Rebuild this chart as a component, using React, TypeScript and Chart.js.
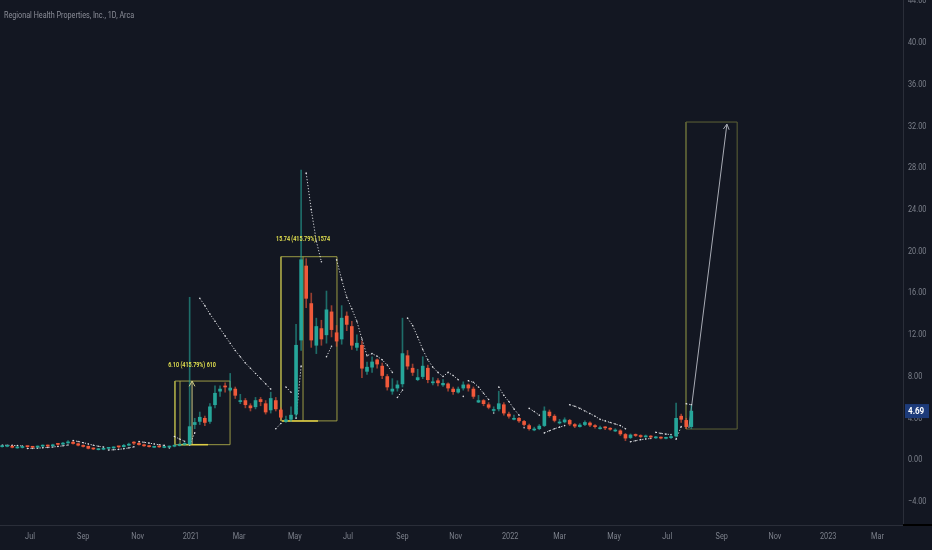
import { useEffect, useRef } from 'react'
import { Chart, registerables } from 'chart.js'
Chart.register(...registerables)

// x axis = trading session index, 0 = 1 Jul 2020. candles below are 4-session bars
const FIRST_SESSION = -22
const SESSIONS_PER_BAR = 4

const opens = [
    1.28, 1.31, 1.30, 1.16, 1.20, 1.30, 1.26, 1.24, 1.33, 1.40,
    1.36, 1.52, 1.52, 1.64, 1.70, 1.56, 1.40, 1.32, 1.10, 0.99,
    1.03, 1.12, 1.16, 1.28, 1.28, 1.42, 1.66, 1.60, 1.46, 1.32,
    1.22, 1.28, 1.20, 1.24, 1.32, 1.40, 1.50, 1.52, 3.40, 3.70,
    4.00, 3.70, 5.30, 6.60, 7.10, 6.70, 6.80, 5.60, 5.70, 5.20,
    5.10, 5.80, 5.40, 4.80, 5.70, 4.80, 3.70, 3.90, 4.40, 11.5,
    18.6, 15.0, 11.0, 12.6, 12.0, 14.2, 12.2, 11.6, 13.8, 12.8,
    10.8, 11.0, 8.50, 8.90, 9.60, 9.00, 8.00, 6.60, 6.90, 7.30,
    10.0, 8.80, 7.70, 8.00, 8.80, 7.40, 7.60, 7.20, 7.30, 6.80,
    6.50, 6.90, 7.20, 6.80, 5.55, 5.70, 5.30, 4.75, 4.90, 5.30,
    4.40, 3.90, 4.00, 3.70, 3.30, 2.88, 3.00, 3.30, 4.60, 4.20,
    3.55, 3.65, 3.80, 3.40, 3.20, 3.40, 3.55, 3.30, 3.00, 3.10,
    3.05, 2.78, 2.80, 2.45, 2.15, 2.45, 2.30, 2.22, 2.28, 2.12,
    2.16, 2.08, 2.14, 2.30, 4.20, 3.80, 3.20,
]
const closes = [
    1.30, 1.34, 1.22, 1.18, 1.24, 1.28, 1.22, 1.30, 1.38, 1.34,
    1.45, 1.50, 1.62, 1.72, 1.58, 1.42, 1.30, 1.12, 1.06, 1.02,
    1.08, 1.14, 1.20, 1.26, 1.40, 1.52, 1.62, 1.48, 1.36, 1.28,
    1.24, 1.26, 1.22, 1.30, 1.38, 1.46, 1.52, 3.20, 3.60, 4.10,
    3.60, 5.10, 6.40, 6.80, 7.00, 6.90, 6.20, 5.70, 5.30, 5.00,
    5.70, 5.60, 4.60, 5.90, 4.90, 4.10, 3.85, 4.30, 11.0, 19.2,
    15.5, 11.5, 12.8, 11.6, 14.4, 12.5, 11.4, 13.6, 13.0, 11.0,
    11.2, 8.80, 8.90, 9.40, 9.20, 8.10, 7.00, 6.80, 7.20, 10.2,
    9.00, 8.40, 7.90, 9.00, 7.70, 7.50, 7.40, 7.35, 6.90, 6.55,
    6.80, 7.20, 6.90, 6.10, 5.70, 5.40, 5.05, 4.80, 5.40, 4.50,
    4.20, 4.00, 3.75, 3.40, 3.00, 2.95, 3.25, 4.70, 4.25, 3.80,
    3.60, 3.85, 3.45, 3.25, 3.35, 3.60, 3.35, 3.20, 3.05, 3.08,
    2.95, 2.85, 2.50, 2.10, 2.40, 2.35, 2.25, 2.30, 2.20, 2.15,
    2.10, 2.12, 2.25, 4.00, 3.90, 3.20, 4.69,
]
const highs = [
    1.38, 1.42, 1.38, 1.27, 1.30, 1.35, 1.32, 1.36, 1.46, 1.44,
    1.52, 1.58, 1.70, 1.86, 1.78, 1.62, 1.46, 1.34, 1.16, 1.10,
    1.14, 1.20, 1.27, 1.33, 1.50, 1.62, 1.76, 1.66, 1.52, 1.40,
    1.32, 1.32, 1.30, 1.36, 1.46, 1.55, 1.68, 15.6, 4.00, 4.60,
    4.20, 5.40, 7.10, 7.10, 7.40, 8.30, 7.00, 6.30, 5.90, 5.40,
    6.00, 6.00, 5.70, 6.50, 6.00, 5.00, 4.20, 5.10, 13.0, 27.8,
    19.3, 16.0, 13.6, 13.4, 16.2, 14.8, 12.9, 14.8, 14.2, 13.3,
    12.0, 11.4, 9.40, 9.90, 9.70, 9.30, 8.20, 7.80, 7.60, 13.6,
    10.5, 9.20, 8.70, 9.90, 9.10, 7.90, 7.80, 7.70, 7.40, 7.00,
    7.00, 7.50, 7.30, 7.00, 6.20, 5.80, 5.50, 5.10, 6.60, 5.50,
    4.60, 4.30, 4.10, 3.80, 3.45, 3.15, 3.40, 5.10, 4.80, 4.35,
    3.90, 4.05, 3.90, 3.50, 3.50, 3.75, 3.65, 3.40, 3.25, 3.20,
    3.10, 3.00, 2.90, 2.55, 2.50, 2.50, 2.42, 2.40, 2.35, 2.28,
    2.22, 2.20, 2.40, 5.45, 4.40, 4.00, 5.20,
]
const lows = [
    1.22, 1.26, 1.16, 1.12, 1.14, 1.20, 1.17, 1.18, 1.27, 1.29,
    1.31, 1.41, 1.47, 1.58, 1.52, 1.36, 1.24, 1.06, 0.99, 0.96,
    0.98, 1.04, 1.10, 1.16, 1.22, 1.36, 1.48, 1.42, 1.30, 1.22,
    1.18, 1.20, 1.17, 1.18, 1.26, 1.34, 1.42, 1.48, 3.00, 3.40,
    3.30, 3.50, 5.00, 6.10, 6.50, 6.60, 5.90, 5.40, 5.00, 4.70,
    4.90, 5.20, 4.40, 4.50, 4.70, 3.90, 3.60, 3.70, 4.10, 10.5,
    14.6, 10.8, 10.2, 11.0, 11.2, 11.8, 10.9, 11.1, 12.4, 10.6,
    10.5, 7.90, 8.20, 8.40, 8.80, 7.80, 6.70, 6.30, 6.60, 7.00,
    8.70, 8.10, 7.60, 7.80, 7.40, 7.20, 7.10, 7.05, 6.60, 6.30,
    6.40, 6.70, 6.60, 5.90, 5.50, 5.20, 4.90, 4.60, 4.70, 4.30,
    4.00, 3.85, 3.60, 3.25, 2.85, 2.80, 2.90, 3.20, 4.10, 3.65,
    3.45, 3.55, 3.30, 3.10, 3.15, 3.30, 3.20, 3.05, 2.95, 2.92,
    2.85, 2.72, 2.35, 1.85, 2.05, 2.25, 2.15, 2.18, 2.10, 2.06,
    2.02, 2.02, 2.05, 2.20, 3.60, 3.00, 3.00,
]

// parabolic SAR, split by side so the dotted runs break on a flip
const sarAbove = [
    1.42, 1.41, 1.40, 1.38, 1.35, null, null, null, null, null,
    null, null, null, null, 1.86, 1.78, 1.66, 1.54, 1.42, 1.32,
    1.24, null, null, null, null, null, null, 1.76, 1.70, 1.62,
    1.54, 1.46, 1.40, null, 2.25, 2.02, 1.80, null, null, 15.5,
    14.8, 14.0, 13.3, 12.6, 11.9, 11.2, 10.5, 9.9, 9.3, 8.8,
    8.3, 7.8, 7.3, 6.8, null, null, 7.0, 6.5, null, null,
    27.5, 24.0, 21.0, 19.0, null, null, 19.2, 17.3, 15.6, 14.5,
    13.3, 11.6, 10.0, 10.2, 9.95, 9.6, 9.1, 8.4, null, null,
    13.6, 12.9, 11.8, 10.6, 9.6, 8.9, 8.4, 8.0, 8.4, 8.1,
    7.7, null, 7.6, 7.45, 7.0, 6.4, 5.8, null, 7.0, 6.2,
    5.6, 4.9, 4.3, null, 4.95, 4.65, 4.3, null, null, null,
    null, null, 5.3, 5.15, 4.95, 4.7, 4.45, 4.2, 3.9, 3.75,
    3.6, 3.45, 3.3, 3.0, null, null, null, null, null, 2.65,
    2.55, 2.48, 2.44, null, null, 5.4, 5.3,
]
const sarBelow = [
    null, null, null, null, null, 1.10, 1.12, 1.14, 1.17, 1.21,
    1.25, 1.30, 1.36, 1.44, null, null, null, null, null, null,
    null, 0.96, 0.98, 1.02, 1.08, 1.16, 1.26, null, null, null,
    null, null, null, 1.16, null, null, null, 1.45, 2.60, null,
    null, null, null, null, null, null, null, null, null, null,
    null, null, null, null, 3.0, 3.5, null, null, 4.0, 9.0,
    null, null, null, null, 9.9, 10.9, null, null, null, null,
    null, null, null, null, null, null, null, null, 6.0, 6.7,
    null, null, null, null, null, null, null, null, null, null,
    null, 6.1, null, null, null, null, null, 4.5, null, null,
    null, null, null, 3.1, null, null, null, 2.6, 2.8, 3.0,
    3.15, 3.3, null, null, null, null, null, null, null, null,
    null, null, null, null, 1.75, 1.85, 1.95, 2.02, 2.06, null,
    null, null, null, 2.0, 3.2, null, null,
]

const monthSessions = [0, 42, 85, 127, 165, 209, 251, 294, 336, 379, 418, 461, 503, 546, 588, 630, 669]
const monthLabels = ['Jul', 'Sep', 'Nov', '2021', 'Mar', 'May', 'Jul', 'Sep', 'Nov', '2022', 'Mar', 'May', 'Jul', 'Sep', 'Nov', '2023', 'Mar']
const priceTicks = [-4, 0, 4, 8, 12, 16, 20, 24, 28, 32, 36, 40, 44]
const lastPrice = 4.69

// drawings on the chart, in (session, price)
const box1Sessions = [114.4, 157.9]
const box1Prices = [1.47, 7.57]
const box1Guide = 118.4
const box1Arrow = 127.9
const box1Base = [116.8, 140.5]
const box1Label = '6.10 (415.79%) 610'
const box1LabelPrice = 9.1

const box2Sessions = [198.1, 242.3]
const box2Prices = [3.75, 19.49]
const box2Arrow = 215.5
const box2Base = [198.9, 227.3]
const box2Label = '15.74 (415.79%) 1574'
const box2LabelPrice = 21.2

const box3Sessions = [517.8, 558.2]
const box3Prices = [2.97, 32.4]
const projSessions = [520.1, 550.1]
const projPrices = [3.07, 32.2]

const BG = '#131722'
const UP = '#26a69a'
const DOWN = '#f0593a'
const SAR = 'rgba(235,236,240,0.9)'
const AXIS_TEXT = '#7c808b'
const BORDER = '#2a2e39'
const BOX = 'rgba(170,168,72,0.9)'
const ARROW = 'rgba(215,212,140,0.95)'
const BASE = '#e0cf45'
const LABEL = '#e8e650'
const BOX3 = '#5f6337'
const PROJ = '#a9acb5'
const FONT = 'Roboto, sans-serif'
const SQUEEZE = 0.77 // the screenshot's text is condensed

const rect = (sx: number[], py: number[]) => [
    { x: sx[0], y: py[0] }, { x: sx[1], y: py[0] }, { x: sx[1], y: py[1] }, { x: sx[0], y: py[1] }, { x: sx[0], y: py[0] },
]

const fmtPrice = (v: number) => (v < 0 ? '\u2212' : '') + Math.abs(v).toFixed(2)

function squeezedText(ctx: CanvasRenderingContext2D, text: string, x: number, y: number, sx = SQUEEZE) {
    ctx.save()
    ctx.translate(x, y)
    ctx.scale(sx, 1)
    ctx.fillText(text, 0, 0)
    ctx.restore()
}

function arrowHead(ctx: CanvasRenderingContext2D, x0: number, y0: number, x1: number, y1: number, color: string) {
    const a = Math.atan2(y1 - y0, x1 - x0)
    const len = 6
    ctx.strokeStyle = color
    ctx.lineWidth = 1
    ctx.beginPath()
    ctx.moveTo(x1 - len * Math.cos(a - 0.5), y1 - len * Math.sin(a - 0.5))
    ctx.lineTo(x1, y1)
    ctx.lineTo(x1 - len * Math.cos(a + 0.5), y1 - len * Math.sin(a + 0.5))
    ctx.stroke()
}

const drawings = {
    id: 'drawings',
    afterDatasetsDraw(chart: any) {
        const { ctx, scales: { x, y } } = chart
        const px = (s: number) => x.getPixelForValue(s)
        const py = (p: number) => y.getPixelForValue(p)
        ctx.save()
        arrowHead(ctx, px(box1Arrow), py(box1Prices[0]), px(box1Arrow), py(box1Prices[1]), ARROW)
        arrowHead(ctx, px(projSessions[0]), py(projPrices[0]), px(projSessions[1]), py(projPrices[1]), PROJ)
        ctx.font = `600 8px ${FONT}`
        ctx.fillStyle = LABEL
        ctx.textAlign = 'center'
        ctx.textBaseline = 'middle'
        squeezedText(ctx, box1Label, px(box1Arrow), py(box1LabelPrice), 0.68)
        squeezedText(ctx, box2Label, px(box2Arrow), py(box2LabelPrice), 0.68)
        ctx.restore()
    },
    afterDraw(chart: any) {
        const { ctx, scales: { x, y } } = chart
        ctx.save()
        // axis labels, at the ticks the scales built
        ctx.font = `9.5px ${FONT}`
        ctx.fillStyle = AXIS_TEXT
        ctx.textBaseline = 'middle'
        ctx.textAlign = 'left'
        y.ticks.forEach((t: any) => squeezedText(ctx, fmtPrice(t.value), y.left + 5, y.getPixelForValue(t.value)))
        ctx.textAlign = 'center'
        x.ticks.forEach((t: any, i: number) => squeezedText(ctx, monthLabels[i], x.getPixelForValue(t.value), x.top + 12))

        // corner of the two scales
        ctx.fillStyle = '#000000'
        ctx.fillRect(y.left, x.top - 1, y.width, 2)

        // last price tag
        const yy = y.getPixelForValue(lastPrice)
        ctx.fillStyle = '#1d3b7a'
        ctx.fillRect(y.left + 2, yy - 7, 24, 14)
        ctx.fillStyle = '#ffffff'
        ctx.font = `bold 9.5px ${FONT}`
        ctx.textAlign = 'left'
        squeezedText(ctx, lastPrice.toFixed(2), y.left + 5, yy + 0.5, 0.85)
        ctx.restore()
    },
}

export default function App() {
    const canvasRef = useRef<HTMLCanvasElement>(null)

    useEffect(() => {
        document.body.style.margin = '0'
        document.body.style.background = BG
        if (!canvasRef.current) return
        const ctx = canvasRef.current.getContext('2d')!

        const xs = closes.map((_, i) => FIRST_SESSION + i * SESSIONS_PER_BAR)
        const colors = closes.map((c, i) => (c >= opens[i] ? UP : DOWN))
        const wickColors = colors.map(c => c + '99')

        const line = (data: any[], color: string, order: number, width = 1) => ({
            type: 'line' as const, data, borderColor: color, borderWidth: width, pointRadius: 0, order, tension: 0,
        })

        const chart = new Chart(ctx, {
            type: 'bar',
            data: {
                datasets: [
                    line(rect(box1Sessions, box1Prices), BOX, 6),
                    line([{ x: box1Guide, y: box1Prices[0] }, { x: box1Guide, y: box1Prices[1] }], BOX, 6),
                    line([{ x: box1Arrow, y: box1Prices[0] }, { x: box1Arrow, y: box1Prices[1] }], ARROW, 6),
                    line([{ x: box1Base[0], y: box1Prices[0] }, { x: box1Base[1], y: box1Prices[0] }], BASE, 5, 1.5),
                    line(rect(box2Sessions, box2Prices), BOX, 6),
                    line([{ x: box2Arrow, y: box2Prices[0] }, { x: box2Arrow, y: box2Prices[1] }], BOX, 6),
                    line([{ x: box2Base[0], y: box2Prices[0] }, { x: box2Base[1], y: box2Prices[0] }], BASE, 5, 1.5),
                    line(rect(box3Sessions, box3Prices), BOX3, 6),
                    line([{ x: projSessions[0], y: projPrices[0] }, { x: projSessions[1], y: projPrices[1] }], PROJ, 6),
                    {
                        type: 'bar',
                        data: xs.map((x, i) => ({ x, y: [lows[i], highs[i]] })),
                        backgroundColor: wickColors,
                        barThickness: 1,
                        grouped: false,
                        order: 2,
                    } as any,
                    {
                        type: 'bar',
                        data: xs.map((x, i) => ({ x, y: [opens[i], closes[i]] })),
                        backgroundColor: colors,
                        barThickness: 3,
                        minBarLength: 1,
                        grouped: false,
                        order: 1,
                    } as any,
                    ...[sarAbove, sarBelow].map(sar => ({
                        type: 'line' as const,
                        data: xs.map((x, i) => ({ x, y: sar[i] })),
                        borderColor: SAR,
                        borderWidth: 1,
                        borderDash: [1.2, 1.8],
                        pointRadius: 0.8,
                        pointBorderWidth: 0,
                        pointBackgroundColor: SAR,
                        spanGaps: false,
                        tension: 0,
                        order: 3,
                    })),
                ],
            },
            options: {
                responsive: true,
                maintainAspectRatio: false,
                animation: false,
                events: [],
                layout: { padding: 0, autoPadding: false },
                plugins: { legend: { display: false }, tooltip: { enabled: false } },
                scales: {
                    x: {
                        type: 'linear',
                        min: -23.7,
                        max: 689.1,
                        offset: false,
                        afterBuildTicks: (s: any) => { s.ticks = monthSessions.map(v => ({ value: v })) },
                        afterFit: (s: any) => { s.height = 25; s.paddingLeft = 0; s.paddingRight = 0 },
                        grid: { display: false, drawTicks: false, offset: false },
                        border: { display: true, color: BORDER },
                        ticks: { display: false, autoSkip: false },
                    },
                    y: {
                        type: 'linear',
                        position: 'right',
                        min: -6.23,
                        max: 44.1,
                        afterBuildTicks: (s: any) => { s.ticks = priceTicks.map(v => ({ value: v })) },
                        afterFit: (s: any) => { s.width = 29; s.paddingTop = 0; s.paddingBottom = 0 },
                        grid: { display: false, drawTicks: false },
                        border: { display: true, color: BORDER },
                        ticks: { display: false, autoSkip: false },
                    },
                },
            } as any,
            plugins: [drawings],
        })
        return () => chart.destroy()
    }, [])

    return (
        <div style={{ position: 'relative', width: 932, height: 550, background: BG, overflow: 'hidden' }}>
            <canvas ref={canvasRef} />
            <div style={{
                position: 'absolute', left: 4, top: 9, color: '#8b8e98', fontSize: 9.5, lineHeight: '12px',
                fontFamily: FONT, whiteSpace: 'nowrap', transform: 'scaleX(0.76)', transformOrigin: 'left center',
            }}>
                Regional Health Properties, Inc., 1D, Arca
            </div>
        </div>
    )
}
